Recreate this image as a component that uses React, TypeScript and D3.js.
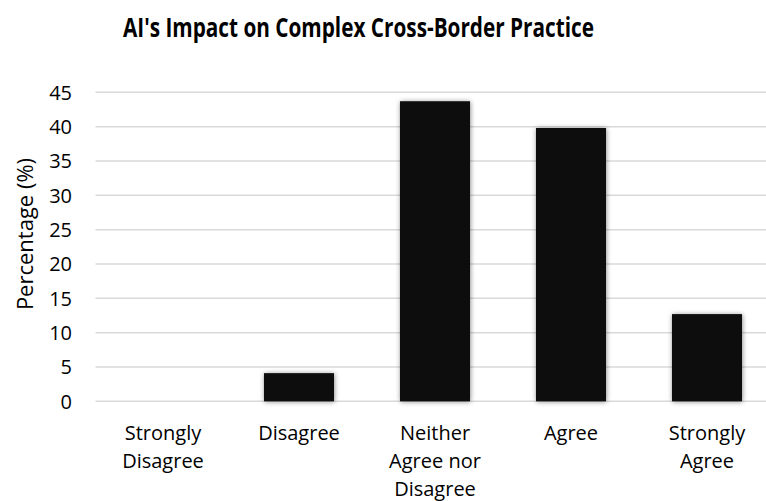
import React from "react";
import * as d3 from "d3";

// Survey responses: share of respondents per answer
const categories: string[][] = [
  ["Strongly", "Disagree"],
  ["Disagree"],
  ["Neither", "Agree nor", "Disagree"],
  ["Agree"],
  ["Strongly", "Agree"],
];
const percentages: number[] = [0, 4.1, 43.7, 39.8, 12.7];
const yTicks: number[] = [0, 5, 10, 15, 20, 25, 30, 35, 40, 45];

const title = "AI's Impact on Complex Cross-Border Practice";
const yTitle = "Percentage (%)";

const W = 766;
const H = 501;
const FONT = "'Open Sans', sans-serif";

export default function App() {
  const keys = categories.map((c) => c.join(" "));
  const x = d3
    .scaleBand<string>()
    .domain(keys)
    .range([95, 775])
    .paddingInner(0.485)
    .paddingOuter(0.2425);
  const y = d3.scaleLinear().domain([0, 45]).range([401.3, 92.3]);

  return (
    <svg
      width={W}
      height={H}
      style={{ position: "absolute", left: 0, top: 0, background: "#fff" }}
    >
      <defs>
        <filter id="barShadow" x="-20%" y="-20%" width="140%" height="140%">
          <feDropShadow dx="0.5" dy="0.5" stdDeviation="2.5" floodColor="#000" floodOpacity="0.45" />
        </filter>
      </defs>

      <text
        x={358.5}
        y={36.5}
        textAnchor="middle"
        fontFamily={FONT}
        fontWeight={700}
        fontSize={26}
        fill="#000"
        textLength={471}
        lengthAdjust="spacingAndGlyphs"
      >
        {title}
      </text>

      {/* gridlines */}
      {yTicks.map((t) => (
        <line
          key={`g${t}`}
          x1={95.5}
          x2={W}
          y1={y(t)}
          y2={y(t)}
          stroke="#d9d9d9"
          strokeWidth={1.5}
        />
      ))}

      {/* y tick labels */}
      {yTicks.map((t) => (
        <text
          key={`t${t}`}
          x={72}
          y={y(t)}
          dy="0.36em"
          textAnchor="end"
          fontFamily={FONT}
          fontSize={20}
          fill="#000"
        >
          {t}
        </text>
      ))}

      <text
        transform={`translate(33,234) rotate(-90)`}
        textAnchor="middle"
        fontFamily={FONT}
        fontSize={22}
        fill="#000"
      >
        {yTitle}
      </text>

      {/* bars */}
      {percentages.map((v, i) =>
        v > 0 ? (
          <rect
            key={`b${i}`}
            x={x(keys[i])}
            y={y(v)}
            width={x.bandwidth()}
            height={y(0) - y(v)}
            fill="#0e0e0e"
            filter="url(#barShadow)"
          />
        ) : null
      )}

      {/* category labels */}
      {categories.map((lines, i) => {
        const cx = (x(keys[i]) as number) + x.bandwidth() / 2;
        return (
          <text
            key={`c${i}`}
            textAnchor="middle"
            fontFamily={FONT}
            fontSize={20}
            fill="#000"
          >
            {lines.map((ln, j) => (
              <tspan key={j} x={cx} y={440 + j * 28}>
                {ln}
              </tspan>
            ))}
          </text>
        );
      })}
    </svg>
  );
}
